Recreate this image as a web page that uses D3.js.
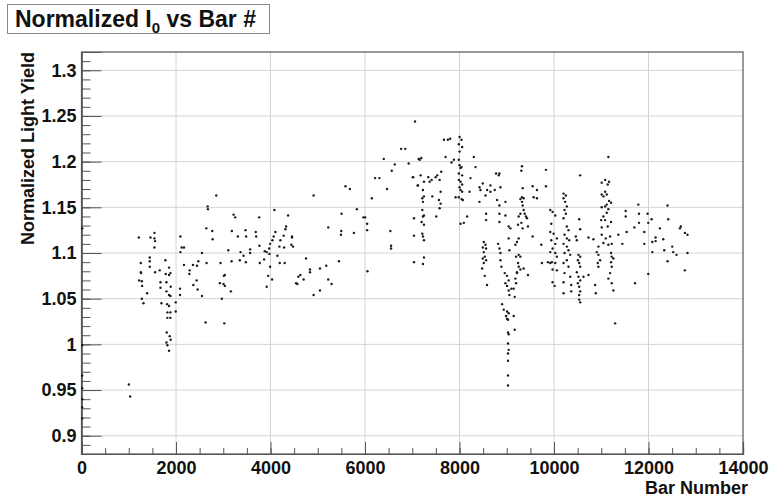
<html>
<head>
<style>
  body { margin: 0; background: #fff; }
  text { font-family: "Liberation Sans", Arial, Helvetica, sans-serif; font-weight: bold; fill: #111; }
</style>
</head>
<body>
<svg width="772" height="501"></svg>
<script src="https://d3js.org/d3.v7.min.js"></script>
<script>
var barsZ = [15,15,15,15,15,15,15]
var yieldZ = [1.127,0.999,0.966,0.952,0.940,0.931,0.919]

var barsA = [1002,1030,1213,1460,1544,1544,1557,1544,1255,1255,1262,1220,1277,1283,1389,1277,1312,1445,1445,1445,1557,1656,1671,1671,1692,1776,1783,1798,1798,1853,1853,1882,1888,1853,1882,1811,1853,1818,1882,1818,1882,1804,1867,1888,1798,1818,1853,1994,1994,2093,2093,2120,2169,2169,2085,2085,2289,2283,2359,2444,2473,2367,2437,2458,2549,2549,2641,2627,2669,2676,2852,2768,2775,2648,2943,2929,3013,3034,3007,3034,2971,3161,3021,3106,3182,3218,3253,3309,3176,3366,3429,3351,3478,3471,3485]
var yieldA = [0.956,0.943,1.117,1.117,1.122,1.116,1.113,1.106,1.089,1.079,1.078,1.070,1.069,1.064,1.056,1.050,1.045,1.095,1.091,1.085,1.079,1.081,1.068,1.062,1.045,1.092,1.077,1.068,1.058,1.084,1.076,1.078,1.063,1.054,1.053,1.044,1.042,1.035,1.035,1.029,1.029,1.013,1.009,1.005,1.002,0.999,0.993,1.046,1.036,1.118,1.101,1.106,1.106,1.087,1.061,1.054,1.081,1.077,1.087,1.086,1.091,1.065,1.070,1.060,1.053,1.100,1.127,1.024,1.151,1.148,1.163,1.124,1.115,1.089,1.089,1.067,1.075,1.076,1.066,1.064,1.050,1.058,1.023,1.103,1.124,1.142,1.139,1.118,1.091,1.101,1.097,1.092,1.090,1.125,1.118]

var barsB = [7058,6763,6853,6397,6925,6630,6566,7136,6214,6305,6467,7016,7115,6144,5587,5680,4912,5503,5828,5967,6003,6045,6045,6052,5497,5490,5765,5222,5448,6537,6552,6552,7037,7037,7037,4083,3760,4372,3688,3696,4104,4068,4041,3992,4330,4315,4279,4209,4188,4288,4456,4456,4442,4477,3570,3570,3766,3878,3920,3865,3773,3971,3977,4146,4195,4300,3992,3950,4034,3920,4752,4836,4836,5047,5180,4631,4589,4541,4568,4701,5222,5292,5047,4912]
var yieldB = [1.244,1.214,1.214,1.203,1.198,1.197,1.190,1.203,1.182,1.182,1.170,1.183,1.174,1.160,1.173,1.170,1.163,1.143,1.148,1.139,1.139,1.132,1.125,1.080,1.124,1.120,1.122,1.128,1.091,1.124,1.108,1.105,1.138,1.119,1.090,1.147,1.139,1.141,1.123,1.118,1.123,1.118,1.114,1.110,1.129,1.126,1.119,1.114,1.107,1.106,1.118,1.117,1.109,1.107,1.104,1.100,1.108,1.102,1.101,1.093,1.089,1.105,1.099,1.097,1.089,1.089,1.085,1.075,1.071,1.063,1.094,1.082,1.079,1.083,1.086,1.076,1.074,1.067,1.066,1.071,1.071,1.066,1.059,1.054]

var barsC = [7670,7754,7803,8001,8043,7986,8056,8001,7986,7881,7832,7705,7191,7157,8303,8339,8233,8001,8043,8022,7986,8056,7986,8022,8056,8001,8022,8056,7986,8043,8071,7917,8212,8022,8092,8162,7016,7178,7121,7248,7339,7410,7368,7495,7529,7614,7579,7600,7565,7600,7579,7508,7424,7227,7248,7213,7227,7213,7248,7227,7199,7248,7213,7227,7248,7248,7227,8423,8493,8444,8585,8550,8655,8655,8746,8774,8845,8831,8866,8795,8972,8845,8423,8563,8563,8845,8972,8845,8514,8550,8493,8563,8514,8535,8493,8563,8514,8479,8535,8583,8816,8866,8866,8887,8845,9041,9077,9041,9056,8957,9006,9041,8972,9006,9041,9056,9098,9147,9183,9197,9217,9168,8901,8936,9006,8985,9006,9027,9041,9147,9168,9027,9041,9027,9041,9027,9027,9027,9027]
var yieldC = [1.224,1.224,1.225,1.227,1.224,1.219,1.216,1.211,1.202,1.202,1.199,1.205,1.204,1.202,1.205,1.194,1.182,1.196,1.194,1.193,1.187,1.185,1.180,1.178,1.175,1.172,1.169,1.167,1.161,1.159,1.158,1.161,1.167,1.132,1.133,1.140,1.183,1.185,1.174,1.178,1.183,1.180,1.178,1.183,1.185,1.189,1.180,1.167,1.158,1.154,1.149,1.140,1.162,1.169,1.162,1.160,1.156,1.147,1.141,1.140,1.134,1.131,1.121,1.118,1.114,1.095,1.088,1.172,1.176,1.169,1.169,1.163,1.174,1.167,1.169,1.187,1.187,1.185,1.172,1.158,1.156,1.152,1.156,1.143,1.136,1.143,1.141,1.134,1.112,1.109,1.106,1.105,1.101,1.096,1.094,1.092,1.089,1.083,1.075,1.065,1.110,1.100,1.092,1.085,1.105,1.129,1.127,1.116,1.103,1.078,1.075,1.070,1.067,1.064,1.059,1.054,1.061,1.061,1.072,1.067,1.078,1.052,1.044,1.038,1.036,1.031,1.028,1.027,1.034,1.031,1.016,1.013,1.011,1.001,0.994,0.990,0.982,0.966,0.955]

var barsD = [9183,9217,9253,9197,9253,9288,9239,9253,9217,9288,9358,9449,9548,9449,9428,9358,9322,9358,9322,9288,9337,9379,9407,9309,9337,9288,9253,9239,9322,9309,9337,9548,9639,9569,9639,9829,9829,9731,9744,9871,9921,9970,10027,9942,9921,9991,10061,9942,10027,9970,9921,10027,10061,9956,10027,9921,9970,10061,9970,10012]
var yieldD = [1.109,1.112,1.116,1.096,1.098,1.096,1.089,1.085,1.079,1.082,1.083,1.076,1.118,1.129,1.138,1.147,1.156,1.160,1.161,1.159,1.152,1.143,1.140,1.133,1.127,1.143,1.140,1.131,1.195,1.190,1.171,1.173,1.169,1.161,1.160,1.191,1.173,1.109,1.089,1.090,1.147,1.145,1.141,1.132,1.123,1.121,1.116,1.114,1.110,1.105,1.101,1.100,1.096,1.090,1.089,1.089,1.082,1.081,1.068,1.064]

var barsE = [11151,10554,11082,11010,11166,11137,11082,11116,11046,11010,11166,11208,11116,11082,11010,11151,11116,11046,10997,11082,11208,11010,11137,11187,11010,11095,11046,11151,11222,10940,10905,10940,10976,10926,10940,11208,11222,11257,11208,11222,11187,11151,11257,11222,11293,10202,10251,10202,10237,10272,10223,10251,10202,10272,10307,10223,10272,10322,10202,10272,10307,10223,10343,10272,10202,10307,10223,10343,10202,10364,10202,10364,10533,10554,10462,10483,10518,10554,10505,10533,10554,10483,10518,10554,10505,10533,10554,10533,10533,10554,10624,10730,10835,10730,10871,10884]
var yieldE = [1.205,1.185,1.180,1.177,1.178,1.175,1.167,1.164,1.162,1.164,1.157,1.155,1.153,1.151,1.150,1.148,1.144,1.140,1.136,1.136,1.134,1.128,1.129,1.118,1.120,1.116,1.111,1.109,1.110,1.107,1.101,1.098,1.092,1.089,1.085,1.100,1.096,1.094,1.090,1.085,1.078,1.072,1.059,1.067,1.023,1.165,1.163,1.160,1.156,1.151,1.147,1.143,1.138,1.129,1.125,1.120,1.116,1.114,1.110,1.107,1.103,1.100,1.098,1.092,1.089,1.085,1.078,1.074,1.068,1.065,1.056,1.058,1.137,1.126,1.118,1.114,1.098,1.096,1.092,1.089,1.085,1.079,1.074,1.070,1.067,1.063,1.058,1.054,1.049,1.046,1.074,1.117,1.115,1.076,1.065,1.056]

var barsF = [11362,11447,11517,11517,11538,11700,11714,11784,11799,11799,11911,11911,11981,11995,11995,12065,12080,12080,12150,12150,12242,12312,12333,12403,12417,12403,12502,12523,12593,12685,12664,12770,12825,12770,12825]
var yieldF = [1.120,1.110,1.146,1.140,1.123,1.128,1.067,1.153,1.143,1.133,1.123,1.110,1.143,1.133,1.077,1.137,1.112,1.101,1.117,1.113,1.127,1.115,1.103,1.152,1.137,1.091,1.107,1.101,1.098,1.129,1.127,1.122,1.120,1.081,1.100]

var xTicks = [0, 2000, 4000, 6000, 8000, 10000, 12000, 14000]
var yTicks = [0.9, 0.95, 1, 1.05, 1.1, 1.15, 1.2, 1.25, 1.3]
var yTickLabels = ["0.9", "0.95", "1", "1.05", "1.1", "1.15", "1.2", "1.25", "1.3"]

var bars = [].concat(barsZ, barsA, barsB, barsC, barsD, barsE, barsF)
var yields = [].concat(yieldZ, yieldA, yieldB, yieldC, yieldD, yieldE, yieldF)
var points = bars.map(function(b, i) { return {bar: b, y: yields[i]} })

var svg = d3.select("svg")
var padL = 81.5, padR = 743, padT = 52, padB = 454

var x = d3.scaleLinear().domain([0, 14000]).range([padL, padR])
var y = d3.scaleLinear().domain([0.88, 1.32]).range([padB, padT])

// grid
svg.append("g").selectAll("line").data(xTicks.slice(1, -1)).enter().append("line")
	.attr("x1", x).attr("x2", x).attr("y1", padT).attr("y2", padB)
	.style("stroke", "#d4d4d4").style("stroke-width", 1)
svg.append("g").selectAll("line").data(yTicks).enter().append("line")
	.attr("x1", padL).attr("x2", padR).attr("y1", y).attr("y2", y)
	.style("stroke", "#d4d4d4").style("stroke-width", 1)

// frame
svg.append("rect").attr("x", padL).attr("y", padT)
	.attr("width", padR - padL).attr("height", padB - padT)
	.style("fill", "none").style("stroke", "#555").style("stroke-width", 1.2)

// minor ticks
var xMinor = d3.range(0, 14001, 500)
var yMinor = d3.range(0, 44).map(function(i) { return +(0.88 + i * 0.01).toFixed(2) })

svg.append("g").attr("transform", "translate(0," + padB + ")")
	.call(d3.axisBottom(x).tickValues(xMinor).tickSize(-6).tickFormat(""))
svg.append("g").attr("transform", "translate(" + padL + ",0)")
	.call(d3.axisLeft(y).tickValues(yMinor).tickSize(-9).tickFormat(""))

// major ticks with labels
svg.append("g").attr("transform", "translate(0," + padB + ")")
	.call(d3.axisBottom(x).tickValues(xTicks).tickSize(-12).tickPadding(7).tickFormat(d3.format("d")))
svg.append("g").attr("transform", "translate(" + padL + ",0)")
	.call(d3.axisLeft(y).tickValues(yTicks).tickSize(-20).tickPadding(5)
		.tickFormat(function(d, i) { return yTickLabels[i] }))

svg.selectAll(".domain").style("stroke", "#555").style("stroke-width", 1.2)
svg.selectAll(".tick line").style("stroke", "#555")
svg.selectAll(".tick text")
	.style("font-family", "'Liberation Sans', Arial, sans-serif")
	.style("font-weight", "bold").style("font-size", "18px").style("fill", "#111")

// points
svg.append("g").selectAll("circle").data(points).enter().append("circle")
	.attr("cx", function(d) { return x(d.bar) })
	.attr("cy", function(d) { return y(d.y) })
	.attr("r", 1.2)
	.style("fill", "#1a1a1a")

// axis titles
svg.append("text").attr("x", 748).attr("y", 494)
	.attr("text-anchor", "end").style("font-size", "18px")
	.text("Bar Number")
svg.append("text").attr("transform", "translate(34,52) rotate(-90)")
	.attr("text-anchor", "end").style("font-size", "18px")
	.text("Normalized Light Yield")

// title box
svg.append("rect").attr("x", 7.5).attr("y", 4.5).attr("width", 262).attr("height", 29)
	.style("fill", "#fff").style("stroke", "#888").style("stroke-width", 1)
var title = svg.append("text").attr("x", 15).attr("y", 27).style("font-size", "23px")
title.append("tspan").text("Normalized I")
title.append("tspan").attr("dy", 6).style("font-size", "15px").text("0")
title.append("tspan").attr("dy", -6).text(" vs Bar #")
</script>
</body>
</html>
